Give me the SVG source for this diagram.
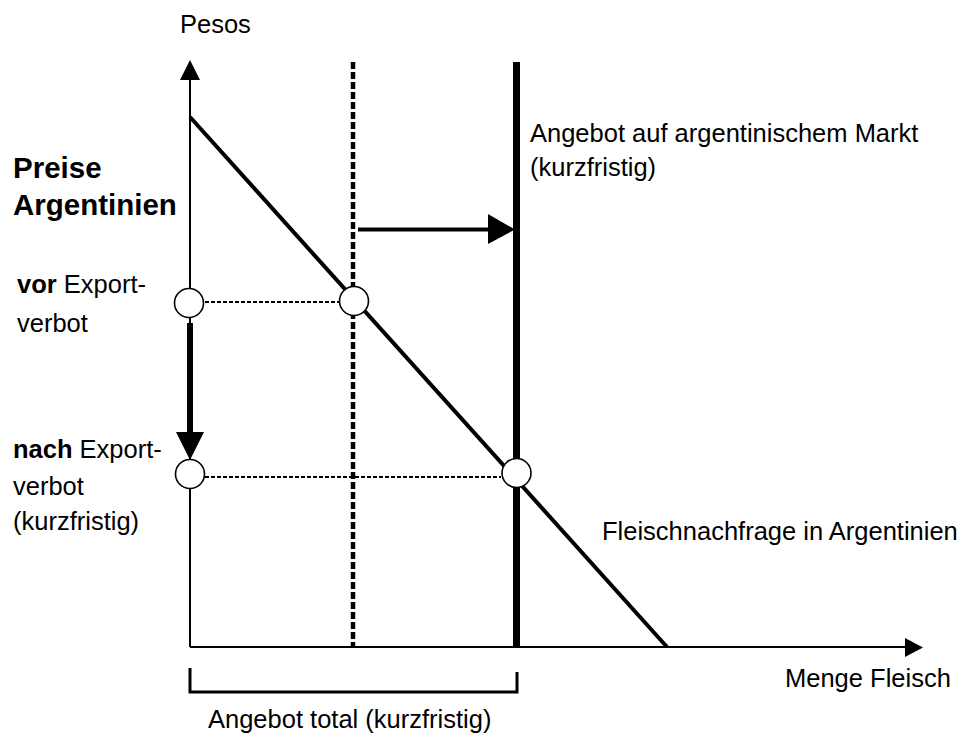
<svg xmlns="http://www.w3.org/2000/svg" width="971" height="735" viewBox="0 0 971 735">
<style>
text{font-family:"Liberation Sans",Arial,sans-serif;font-size:25.5px;fill:#000}
.b{font-weight:bold}
.t{font-size:29.5px;font-weight:bold}
.dot{stroke:#000;stroke-width:2;stroke-dasharray:4 2;fill:none}
.pt{fill:#fff;stroke:#000;stroke-width:1.6}
</style>
<rect width="971" height="735" fill="#fff"/>
<g id="axes">
<line x1="190" y1="647" x2="190" y2="78" stroke="#000" stroke-width="2"/>
<polygon points="180,80 200,80 190,60" fill="#000"/>
<line x1="190" y1="647" x2="907" y2="647" stroke="#000" stroke-width="2"/>
<polygon points="905,638 905,657 923,647.5" fill="#000"/>
</g>
<g id="connectors">
<line x1="353" y1="62" x2="353" y2="647" stroke="#000" stroke-width="4.5" stroke-dasharray="7 3"/>
<line x1="516.5" y1="62" x2="516.5" y2="647" stroke="#000" stroke-width="7"/>
<line x1="190" y1="117" x2="667" y2="647" stroke="#000" stroke-width="4"/>
<line x1="205" y1="302" x2="340" y2="302" class="dot"/>
<line x1="205" y1="477" x2="501" y2="477" class="dot"/>
<line x1="358" y1="229.5" x2="490" y2="229.5" stroke="#000" stroke-width="4"/>
<polygon points="488,214 488,244 515,229.5" fill="#000"/>
<line x1="190" y1="323" x2="190" y2="434" stroke="#000" stroke-width="6"/>
<polygon points="176,432 204,432 190,460" fill="#000"/>
<path d="M190,668 V692 H517 V672" fill="none" stroke="#000" stroke-width="3"/>
</g>
<g id="points">
<circle cx="189" cy="303" r="14.5" class="pt"/>
<circle cx="354" cy="301" r="14.5" class="pt"/>
<circle cx="190" cy="474" r="14.5" class="pt"/>
<circle cx="516.5" cy="473" r="14.5" class="pt"/>
</g>
<g id="labels">
<text x="180" y="33">Pesos</text>
<text x="13" y="178" class="t">Preise</text>
<text x="13" y="215" class="t">Argentinien</text>
<text x="17" y="293"><tspan class="b">vor</tspan> Export-</text>
<text x="17" y="332">verbot</text>
<text x="13" y="458"><tspan class="b">nach</tspan> Export-</text>
<text x="13" y="495">verbot</text>
<text x="13" y="530">(kurzfristig)</text>
<text x="530" y="142">Angebot auf argentinischem Markt</text>
<text x="530" y="176">(kurzfristig)</text>
<text x="602" y="540">Fleischnachfrage in Argentinien</text>
<text x="785" y="687">Menge Fleisch</text>
<text x="208" y="728">Angebot total (kurzfristig)</text>
</g>
</svg>
